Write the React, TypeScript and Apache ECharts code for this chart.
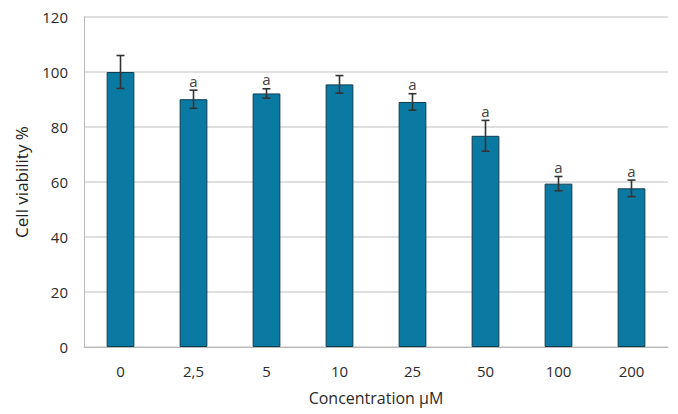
import React, { useEffect, useRef } from "react";
import * as echarts from "echarts";

const categories = ["0", "2,5", "5", "10", "25", "50", "100", "200"];
const viability = [100, 90.1, 92.2, 95.5, 89.1, 76.8, 59.4, 57.7];
const errors = [6, 3.3, 1.7, 3.2, 3, 5.6, 2.6, 3];
const sigLabels = ["", "a", "a", "", "a", "a", "a", "a"];
const yTicks = { min: 0, max: 120, interval: 20 };

const FONT = "'Open Sans', Lato, sans-serif";

export default function App() {
  const ref = useRef<HTMLDivElement>(null);
  useEffect(() => {
    if (!ref.current) return;
    const chart = echarts.init(ref.current, null, { renderer: "svg" });
    const errData = viability.map((v, i) => [i, v - errors[i], v + errors[i], sigLabels[i]]);
    chart.setOption({
      animation: false,
      textStyle: { fontFamily: FONT },
      grid: { left: 84, right: 10, top: 17, bottom: 67 },
      xAxis: {
        type: "category",
        data: categories,
        axisLine: { show: true, lineStyle: { color: "#b8b8b8", width: 1 } },
        axisTick: { show: false },
        axisLabel: { color: "#2b2b2b", fontSize: 15, margin: 16, fontFamily: FONT },
        name: "Concentration µM",
        nameLocation: "middle",
        nameGap: 43,
        nameTextStyle: { color: "#2b2b2b", fontSize: 16, fontFamily: FONT },
      },
      yAxis: {
        type: "value",
        min: yTicks.min,
        max: yTicks.max,
        interval: yTicks.interval,
        axisLine: { show: true, lineStyle: { color: "#b8b8b8", width: 1 } },
        axisTick: { show: false },
        axisLabel: { color: "#2b2b2b", fontSize: 15, margin: 16, fontFamily: FONT },
        splitLine: { lineStyle: { color: "#d4d4d4", width: 1.5 } },
        name: "Cell viability %",
        nameLocation: "middle",
        nameGap: 54,
        nameTextStyle: { color: "#222", fontSize: 17, fontFamily: FONT },
      },
      series: [
        {
          type: "bar",
          data: viability,
          barWidth: "38%",
          itemStyle: { color: "#0a7aa3", borderColor: "#103c50", borderWidth: 1 },
          z: 2,
        },
        {
          type: "custom",
          data: errData,
          z: 3,
          renderItem: (params: any, api: any) => {
            const x = api.value(0);
            const lo = api.coord([x, api.value(1)]);
            const hi = api.coord([x, api.value(2)]);
            const label = sigLabels[params.dataIndex];
            const cap = 4;
            const style = { stroke: "#333", lineWidth: 1.6 };
            const children: any[] = [
              { type: "line", shape: { x1: hi[0], y1: hi[1], x2: lo[0], y2: lo[1] }, style },
              { type: "line", shape: { x1: hi[0] - cap, y1: hi[1], x2: hi[0] + cap, y2: hi[1] }, style },
              { type: "line", shape: { x1: lo[0] - cap, y1: lo[1], x2: lo[0] + cap, y2: lo[1] }, style },
            ];
            if (label) {
              children.push({
                type: "text",
                x: hi[0],
                y: hi[1] - 2,
                style: {
                  text: label,
                  fill: "#444",
                  fontSize: 15,
                  fontFamily: FONT,
                  align: "center",
                  verticalAlign: "bottom",
                },
              });
            }
            return { type: "group", children };
          },
        },
      ],
    });
    return () => chart.dispose();
  }, []);
  return <div ref={ref} style={{ width: 678, height: 414, position: "absolute", left: 0, top: 0, background: "#fff" }} />;
}
